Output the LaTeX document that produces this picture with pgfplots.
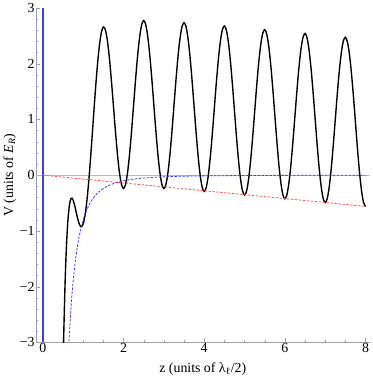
\documentclass[border=0pt]{standalone}
\usepackage{fontspec}
\setmainfont{Liberation Serif}
\usepackage{pgfplots}
\pgfplotsset{compat=1.18}
\definecolor{mblue}{rgb}{0.25,0.25,0.9}
\definecolor{mred}{rgb}{0.95,0.35,0.35}
\begin{document}
\begin{tikzpicture}
\begin{axis}[
  scale only axis, width=337pt, height=338pt,
  xmin=-0.17, xmax=8.1, ymin=-3, ymax=3,
  axis lines=left, axis line style={gray!75, -},
  xtick={0,2,4,6,8}, xticklabels={0,2,4,6,8},
  ytick={-3,-2,-1,0,1,2,3}, yticklabels={−3,−2,−1,0,1,2,3},
  minor x tick num=3, minor y tick num=4,
  tick align=inside, major tick length=4pt, minor tick length=2pt,
  tick style={gray!75},
  ticklabel style={font=\fontsize{14}{16}\selectfont},
  label style={font=\fontsize{14}{16}\selectfont},
  xlabel={z (units of λ\textsubscript{ℓ}/2)},
  ylabel={V (units of \textit{E}\textsubscript{\textit{R}})},
  xlabel style={yshift=-4pt},
  ylabel style={yshift=-3pt},
  xticklabel style={yshift=3pt},
  yticklabel style={xshift=2pt},
]
\addplot[gray!55, line width=0.6pt] coordinates {(-0.17,0) (8.1,0)};
\addplot[mblue, line width=1.3pt] coordinates {(0,-3) (0,3)};
\addplot[black, line width=1.4pt, smooth] coordinates {
(0.5,-3.435) (0.51,-3.07) (0.52,-2.738) (0.55,-1.920) (0.575,-1.412) (0.6,-1.0325)
(0.625,-0.760) (0.65,-0.577) (0.675,-0.467) (0.7,-0.4175) (0.725,-0.415) (0.75,-0.4485)
(0.8,-0.582) (0.85,-0.744) (0.9,-0.8735) (0.95,-0.926) (1.0,-0.87) (1.05,-0.691)
(1.1,-0.3915) (1.15,0.0118) (1.2,0.4895) (1.25,1.003) (1.3,1.5085) (1.35,1.962)
(1.4,2.324) (1.45,2.5627) (1.5,2.658) (1.55,2.6033) (1.6,2.4062) (1.65,2.0881)
(1.7,1.6817) (1.75,1.2282) (1.8,0.7733) (1.85,0.3624) (1.9,0.0369) (1.95,-0.171)
(2.0,-0.24) (2.05,-0.163) (2.1,0.0531) (2.15,0.3873) (2.2,0.8074) (2.25,1.2723)
(2.3,1.7367) (2.35,2.1556) (2.4,2.4876) (2.45,2.7007) (2.5,2.7738) (2.55,2.6998)
(2.6,2.486) (2.65,2.1532) (2.7,1.7339) (2.75,1.269) (2.8,0.8041) (2.85,0.3842)
(2.9,0.0507) (2.95,-0.1643) (3.0,-0.2396)
(3.05,-0.168) (3.1,0.0435) (3.15,0.373) (3.2,0.789) (3.25,1.250) (3.3,1.711)
(3.35,2.127) (3.4,2.456) (3.45,2.666) (3.5,2.737) (3.55,2.661) (3.6,2.445)
(3.65,2.110) (3.7,1.689) (3.75,1.223) (3.8,0.756) (3.85,0.335) (3.9,0.000)
(3.95,-0.216) (4.0,-0.292)
(4.05,-0.2218) (4.1,-0.0119) (4.15,0.3167) (4.2,0.7317) (4.25,1.1919) (4.3,1.6522)
(4.35,2.0672) (4.4,2.3958) (4.45,2.6057) (4.5,2.6759) (4.55,2.5993) (4.6,2.383)
(4.65,2.048) (4.7,1.6266) (4.75,1.1598) (4.8,0.6931) (4.85,0.2717) (4.9,-0.0633)
(4.95,-0.2796) (5.0,-0.3562)
(5.05,-0.2862) (5.1,-0.0764) (5.15,0.252) (5.2,0.6668) (5.25,1.1269) (5.3,1.5871)
(5.35,2.0019) (5.4,2.3303) (5.45,2.5401) (5.5,2.6101) (5.55,2.5333) (5.6,2.3169)
(5.65,1.9817) (5.7,1.5601) (5.75,1.0932) (5.8,0.6264) (5.85,0.2048) (5.9,-0.1304)
(5.95,-0.3468) (6.0,-0.4236)
(6.05,-0.3536) (6.1,-0.144) (6.15,0.1844) (6.2,0.5992) (6.25,1.0592) (6.3,1.5193)
(6.35,1.9341) (6.4,2.2624) (6.45,2.4721) (6.5,2.542) (6.55,2.4652) (6.6,2.2487)
(6.65,1.9134) (6.7,1.4918) (6.75,1.0249) (6.8,0.5579) (6.85,0.1363) (6.9,-0.1989)
(6.95,-0.4155) (7.0,-0.4923)
(7.05,-0.4224) (7.1,-0.2127) (7.15,0.1156) (7.2,0.5304) (7.25,0.9904) (7.3,1.4504)
(7.35,1.8652) (7.4,2.1935) (7.45,2.4032) (7.5,2.4731) (7.55,2.3962) (7.6,2.1797)
(7.65,1.8444) (7.7,1.4228) (7.75,0.9558) (7.8,0.4888) (7.85,0.0672) (7.9,-0.2681)
(7.95,-0.4846) (8.0,-0.5615)
};
\addplot[mred, line width=0.8pt, dash pattern=on 2.5pt off 1.5pt] coordinates {(0,0) (8,-0.56)};
\addplot[mblue, line width=0.8pt, dash pattern=on 2.5pt off 1.5pt, smooth] coordinates {
(0.64,-3.052) (0.65,-2.913) (0.7,-2.332) (0.75,-1.896) (0.8,-1.5625) (0.85,-1.303)
(0.9,-1.097) (1.0,-0.8) (1.1,-0.601) (1.2,-0.463) (1.3,-0.364) (1.4,-0.2915)
(1.5,-0.237) (1.6,-0.1953) (1.8,-0.1372) (2.0,-0.1) (2.25,-0.0702) (2.5,-0.0512)
(3,-0.0296) (3.5,-0.0187) (4,-0.0125) (5,-0.0064) (6,-0.0037) (7,-0.0023) (8,-0.0016)
};
\end{axis}
\end{tikzpicture}
\end{document}
